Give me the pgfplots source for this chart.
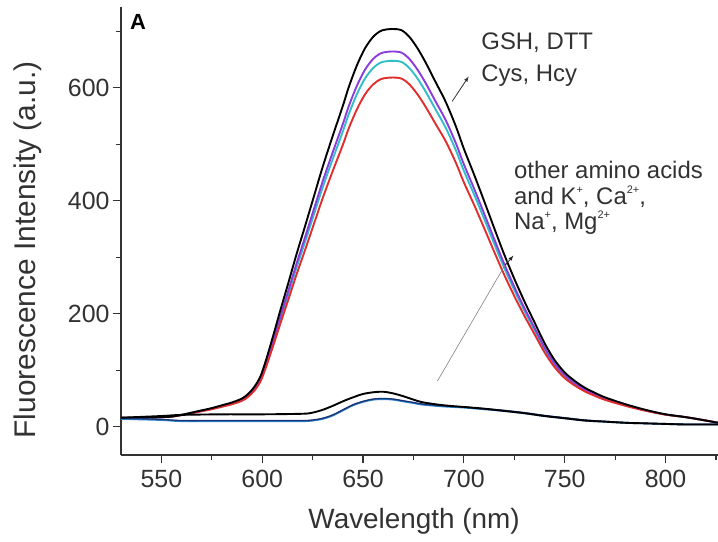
\documentclass[border=0pt]{standalone}
\usepackage{fontspec}
\setmainfont{Liberation Sans}
\usepackage{pgfplots}
\pgfplotsset{compat=1.18}
\definecolor{txt}{RGB}{50,50,50}
\definecolor{cpurple}{RGB}{140,60,220}
\definecolor{ccyan}{RGB}{50,190,200}
\definecolor{cred}{RGB}{225,45,45}
\definecolor{csteel}{RGB}{40,130,200}
\definecolor{cnavy}{RGB}{30,50,120}
\newcommand\sups[1]{\raisebox{0.85ex}{\fontsize{11}{11}\selectfont #1}}
\begin{document}
\begin{tikzpicture}
\useasboundingbox (-121bp,-87bp) rectangle (597bp,455bp);
\begin{axis}[
  at={(0,0)}, anchor=south west,
  scale only axis, width=597bp, height=448bp,
  xmin=530, xmax=826, ymin=-50, ymax=743,
  axis x line=bottom, axis y line=left,
  axis line style={-, line width=1.4pt, color=black!80},
  xtick={550,600,650,700,750,800},
  ytick={0,200,400,600},
  minor xtick={575,625,675,725,775,825},
  minor ytick={100,300,500,700},
  tick align=outside,
  major tick length=8bp, minor tick length=5bp,
  every tick/.style={line width=1.2pt, color=black!80},
  /pgf/number format/assume math mode=true,
  tick label style={font=\fontsize{25}{29}\selectfont, text=txt},
  xticklabel style={yshift=-4bp},
  xlabel={Wavelength (nm)},
  ylabel={Fluorescence Intensity (a.u.)},
  xlabel style={at={(axis description cs:0.491,-0.147)}, anchor=center, font=\fontsize{28}{32}\selectfont, text=txt},
  ylabel style={at={(axis description cs:-0.156,0.458)}, anchor=center, rotate=0, font=\fontsize{30}{34}\selectfont, text=txt},
  clip=true,
]
% high group
\addplot[ccyan, line width=1.9pt, smooth] coordinates {
(530,16)(540,16)(550,17)(555,18)(560,20.7)(565,24.3)(570,28)(575,31.7)(580,36.3)(585,40.9)(590,47.3)(593,54.6)(596,65.7)(599,82.2)(601,100.5)(603,121.7)(606,155.6)(609,190.5)(613,235.5)(617,281.4)(621,324.5)(625,368.6)(630,423.7)(635,474.2)(640,522.8)(643,554)(647,588.9)(651,616.5)(655,634.8)(659,644.9)(664,647.7)(669,645.8)(673,634.8)(677,616.5)(681,593.5)(686,561.4)(691,529.2)(696,489.8)(700,453.1)(705,411.7)(710,368.6)(715,324.5)(720,281.4)(725,241.9)(730,205.2)(735,171.2)(740,137.3)(745,109.7)(750,89.5)(755,75.8)(760,64.7)(765,56.5)(770,49.1)(780,38.1)(790,28.9)(800,21.6)(810,17)(820,11)(826,7)};
\addplot[cpurple, line width=1.9pt, smooth] coordinates {
(530,16)(540,16)(550,17)(555,18)(560,20.8)(565,24.5)(570,28.3)(575,32.1)(580,36.8)(585,41.5)(590,48.1)(593,55.6)(596,66.9)(599,83.9)(601,102.7)(603,124.4)(606,159.2)(609,195)(613,241.2)(617,288.3)(621,332.6)(625,377.8)(630,434.3)(635,486.1)(640,536)(643,568.1)(647,603.9)(651,632.1)(655,651)(659,661.3)(664,664.2)(669,662.3)(673,651)(677,632.1)(681,608.6)(686,575.6)(691,542.6)(696,502.1)(700,464.5)(705,422.1)(710,377.8)(715,332.6)(720,288.3)(725,247.8)(730,210.1)(735,175.3)(740,140.4)(745,112.1)(750,91.4)(755,77.3)(760,66)(765,57.5)(770,50)(780,38.7)(790,29.2)(800,21.7)(810,17)(820,11)(826,7)};
\addplot[cred, line width=1.9pt, smooth] coordinates {
(530,16)(540,16)(550,17)(555,18)(560,20.5)(565,24)(570,27.5)(575,31)(580,35.4)(585,39.8)(590,45.9)(593,52.9)(596,63.4)(599,79.1)(601,96.6)(603,116.8)(606,149.1)(609,182.4)(613,225.3)(617,269)(621,310.1)(625,352.1)(630,404.6)(635,452.8)(640,499.1)(643,528.9)(647,562.1)(651,588.4)(655,605.9)(659,615.5)(664,618.1)(669,616.4)(673,605.9)(677,588.4)(681,566.5)(686,535.9)(691,505.3)(696,467.6)(700,432.6)(705,393.3)(710,352.1)(715,310.1)(720,269)(725,231.4)(730,196.4)(735,164)(740,131.6)(745,105.4)(750,86.1)(755,73)(760,62.5)(765,54.6)(770,47.6)(780,37.1)(790,28.4)(800,21.4)(810,17)(820,11)(826,7)};
\addplot[black, line width=1.9pt, smooth] coordinates {
(530,16)(540,16)(550,17)(555,18)(560,21)(565,25)(570,29)(575,33)(580,38)(585,43)(590,50)(593,58)(596,70)(599,88)(601,108)(603,131)(606,168)(609,206)(613,255)(617,305)(621,352)(625,400)(630,460)(635,515)(640,568)(643,602)(647,640)(651,670)(655,690)(659,701)(664,704)(669,702)(673,690)(677,670)(681,645)(686,610)(691,575)(696,532)(700,492)(705,447)(710,400)(715,352)(720,305)(725,262)(730,222)(735,185)(740,148)(745,118)(750,96)(755,81)(760,69)(765,60)(770,52)(780,40)(790,30)(800,22)(810,17)(820,11)(826,7)};
% low group
\addplot[csteel, line width=1.9pt, smooth] coordinates {
(530,14)(550,12)(560,10)(580,10)(600,10)(620,10)(625,11)(630,14)(635,20)(640,29)(645,38)(650,44)(655,48)(660,49)(665,48)(670,45)(675,42)(680,39)(690,36)(700,34)(710,31)(720,28)(730,24)(740,19)(750,15)(760,11)(770,9)(780,7)(790,6)(800,5)(810,4)(826,4)};
\addplot[cnavy, line width=1.3pt, smooth] coordinates {
(530,15)(550,13)(560,11)(580,11)(600,11)(620,11)(625,12)(630,15)(635,21)(640,30)(645,39)(650,45)(655,49)(660,50)(665,49)(670,46)(675,43)(680,40)(690,37)(700,35)(710,32)(720,29)(730,25)(740,20)(750,16)(760,12)(770,9.5)(780,7.5)(790,6)(800,5)(810,4.5)(826,4.5)};
\addplot[black, line width=1.9pt, smooth] coordinates {
(530,16)(550,19)(560,21)(580,22)(600,22)(620,23)(625,25)(630,30)(635,37)(640,45)(645,52)(650,58)(655,61)(660,62)(665,59)(670,54)(675,48)(680,43)(690,38)(700,35)(710,32)(720,28)(730,24)(740,19)(750,15)(760,11)(770,9)(780,7)(790,6)(800,5)(810,4)(826,4)};
% annotations
\node[font=\fontsize{22}{26}\selectfont\bfseries, text=black] at (axis cs:538.5,717) {A};
\draw[-latex, line width=0.8pt, black!80] (axis cs:694.2,576) -- (axis cs:702.4,620);
\draw[line width=0.6pt, black!50] (axis cs:686.9,81) -- (axis cs:722,296);
\draw[-latex, line width=0.8pt, black!85] (axis cs:720.5,286) -- (axis cs:724.6,303);
\node[anchor=base west, font=\fontsize{24}{28}\selectfont, text=txt, inner sep=0pt] at (axis cs:708.6,667) {GSH, DTT};
\node[anchor=base west, font=\fontsize{24}{28}\selectfont, text=txt, inner sep=0pt] at (axis cs:708.6,611) {Cys, Hcy};
\node[anchor=base west, font=\fontsize{24}{28}\selectfont, text=txt, inner sep=0pt] at (axis cs:724.8,440) {other amino acids};
\node[anchor=base west, font=\fontsize{24}{28}\selectfont, text=txt, inner sep=0pt] at (axis cs:724.8,393) {and K\sups{+}, Ca\sups{2+},};
\node[anchor=base west, font=\fontsize{24}{28}\selectfont, text=txt, inner sep=0pt] at (axis cs:724.8,349) {Na\sups{+}, Mg\sups{2+}};
\end{axis}
\end{tikzpicture}
\end{document}
